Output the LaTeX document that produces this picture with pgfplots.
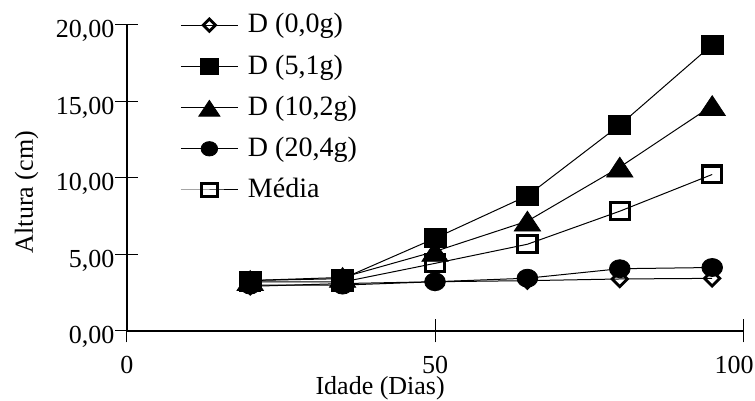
\documentclass[border=0pt]{standalone}
\usepackage{fontspec}
\setmainfont{Liberation Serif}
\usepackage{pgfplots}
\pgfplotsset{compat=1.18}

\begin{document}
\fontsize{13}{15.6}\selectfont
\begin{tikzpicture}
\begin{axis}[
    at={(0,0)}, anchor=south west,
    width=308pt, height=153pt, scale only axis,
    xmin=0, xmax=100, ymin=0, ymax=20,
    axis lines=left,
    axis line style={-, line width=1.2pt, black},
    xtick={0,50,100},
    xticklabels={0,50,{\makebox[0pt]{100\hspace*{9pt}}}},
    ytick={0,5,10,15,20},
    tick align=center,
    major tick length=11.5pt,
    tick style={line width=0.5pt, black},
    /pgf/number format/assume math mode=true,
    yticklabel style={xshift=4pt, yshift=-3pt, /pgf/number format/fixed,
        /pgf/number format/fixed zerofill, /pgf/number format/precision=2,
        /pgf/number format/use comma},
    xticklabel style={inner sep=0pt, yshift=-6.6pt},
    xlabel={Idade (Dias)},
    ylabel={Altura (cm)},
    xlabel style={at={(axis description cs:0.411,-0.209)}, anchor=base},
    ylabel style={at={(axis description cs:-0.163,0.454)}, anchor=center},
    clip=false,
    every axis plot/.append style={line width=0.5pt, black},
    legend style={draw=none, fill=none, at={(axis description cs:0.086,1.068)},
        anchor=north west, inner sep=0pt, row sep=0pt, column sep=4.8pt,
        nodes={inner sep=0pt}, font=\fontsize{14}{16.8}\selectfont},
    legend cell align=left,
    legend image code/.code={
        \path[draw=none, fill=none] (0pt,-10.3pt) rectangle (28.5pt,10.3pt);
        \draw[mark repeat=2, mark phase=2, every mark/.append style={scale=0.8}]
            plot coordinates {(0pt,0pt) (14.25pt,0pt) (28.5pt,0pt)};
    },
]
% D (0,0g)
\addplot[mark=square, mark size=2.7pt, mark options={rotate=45, fill=white, line width=1.4pt}]
    coordinates {(20,2.92)(35,3.1)(50,3.22)(65,3.29)(80,3.40)(95,3.44)};
\addlegendentry{D (0,0g)}
% D (5,1g)
\addplot[mark=square*, mark size=4.8pt, mark options={xscale=1.15, line width=0.4pt}]
    coordinates {(20,3.3)(35,3.42)(50,6.06)(65,8.84)(80,13.46)(95,18.71)};
\addlegendentry{D (5,1g)}
% D (10,2g)
\addplot[mark=triangle*, mark size=6.6pt, mark options={xscale=1.15, yshift=-1.65pt, line width=0.4pt}]
    coordinates {(20,3.3)(35,3.5)(50,5.2)(65,7.18)(80,10.71)(95,14.73)};
\addlegendentry{D (10,2g)}
% D (20,4g)
\addplot[mark=*, mark size=4.5pt, mark options={xscale=1.15, line width=0.4pt}]
    coordinates {(20,3.0)(35,3.0)(50,3.22)(65,3.45)(80,4.07)(95,4.15)};
\addlegendentry{D (20,4g)}
% Media
\addplot[mark=square, mark size=4.2pt, mark options={xscale=1.15, fill=white, line width=1.6pt}]
    coordinates {(20,3.22)(35,3.2)(50,4.42)(65,5.67)(80,7.83)(95,10.23)};
\addlegendentry{Média}
\end{axis}
\pgfresetboundingbox
\path (-63.5pt,-35pt) rectangle (314pt,165.5pt);
\end{tikzpicture}
\end{document}
